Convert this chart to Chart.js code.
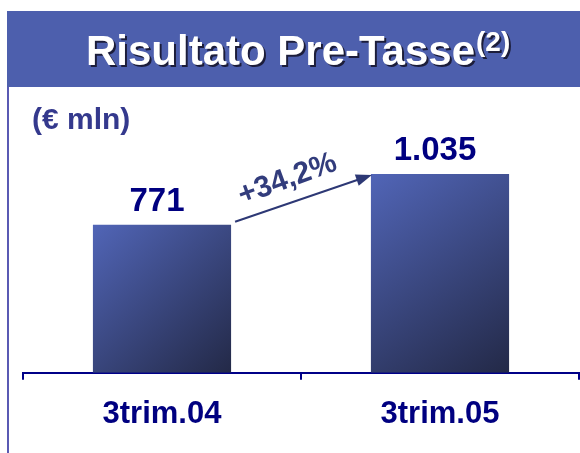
<!DOCTYPE html>
<html>
<head>
<meta charset="utf-8">
<script src="https://cdn.jsdelivr.net/npm/chart.js@4.4.0/dist/chart.umd.min.js"></script>
<style>
  html, body { margin: 0; padding: 0; background: #fff; }
  #wrap { width: 580px; height: 453px; position: relative; }
</style>
</head>
<body>
<div id="wrap"><canvas id="chartRisultato"></canvas></div>
<script>
// dati (€ mln)
const categorie = ['3trim.04', '3trim.05'];
const valori = [771, 1035];
const titolo = 'Risultato Pre-Tasse';
const nota = '(2)';
const unita = '(€ mln)';

const FONT = '"Liberation Sans", Arial, Helvetica, sans-serif';

function fmtIt(n) {
  return String(n).replace(/\B(?=(\d{3})+(?!\d))/g, '.');
}

function barGradient(ctx) {
  const chart = ctx.chart;
  const area = chart.chartArea;
  if (!area || !chart.scales.x) return '#4a5cab';
  const x = chart.scales.x.getPixelForValue(ctx.dataIndex);
  const top = chart.scales.y.getPixelForValue(ctx.raw);
  const base = chart.scales.y.getPixelForValue(0);
  const g = chart.ctx.createLinearGradient(x - 69, top, x + 69, base);
  g.addColorStop(0, '#5165b7');
  g.addColorStop(1, '#232947');
  return g;
}

// sfondo: banda del titolo, linea a sinistra, unità
const decorPlugin = {
  id: 'decor',
  beforeDraw(chart) {
    const c = chart.ctx;
    c.save();
    c.fillStyle = '#4d5fad';
    c.fillRect(7, 11, 573, 76);

    c.strokeStyle = '#3030a0';
    c.lineWidth = 1.6;
    c.beginPath();
    c.moveTo(8, 87);
    c.lineTo(8, 453);
    c.stroke();

    // titolo con ombra
    c.textBaseline = 'alphabetic';
    c.textAlign = 'left';
    c.font = 'bold 42px ' + FONT;
    const w = c.measureText(titolo).width;
    c.fillStyle = '#1c1d3a';
    c.fillText(titolo, 88, 67);
    c.fillStyle = '#ffffff';
    c.fillText(titolo, 86, 65);
    c.font = 'bold 28px ' + FONT;
    c.fillStyle = '#1c1d3a';
    c.fillText(nota, 86 + w + 3, 53);
    c.fillStyle = '#ffffff';
    c.fillText(nota, 86 + w + 1, 51);

    c.font = 'bold 30px ' + FONT;
    c.fillStyle = '#34398d';
    c.fillText(unita, 32, 129);
    c.restore();
  },
  afterDraw(chart) {
    const c = chart.ctx;
    const meta = chart.getDatasetMeta(0);
    c.save();
    // etichette dei valori
    c.font = 'bold 33px ' + FONT;
    c.fillStyle = '#000080';
    c.textAlign = 'center';
    c.textBaseline = 'alphabetic';
    meta.data.forEach(function (bar, i) {
      c.fillText(fmtIt(valori[i]), bar.x - 5, bar.y - 14);
    });

    // freccia di crescita
    const b0 = meta.data[0], b1 = meta.data[1];
    const x0 = b0.x + b0.width / 2 + 4, y0 = b0.y - 3;
    const x1 = b1.x - b1.width / 2 + 1, y1 = b1.y + 1;
    const ang = Math.atan2(y1 - y0, x1 - x0);
    c.strokeStyle = '#2d3875';
    c.fillStyle = '#2d3875';
    c.lineWidth = 2;
    c.beginPath();
    c.moveTo(x0, y0);
    c.lineTo(x1 - 14 * Math.cos(ang), y1 - 14 * Math.sin(ang));
    c.stroke();
    c.beginPath();
    c.moveTo(x1, y1);
    c.lineTo(x1 - 16 * Math.cos(ang) + 6 * Math.sin(ang), y1 - 16 * Math.sin(ang) - 6 * Math.cos(ang));
    c.lineTo(x1 - 16 * Math.cos(ang) - 6 * Math.sin(ang), y1 - 16 * Math.sin(ang) + 6 * Math.cos(ang));
    c.closePath();
    c.fill();

    const pct = ((valori[1] / valori[0] - 1) * 100).toFixed(1).replace('.', ',');
    c.translate((x0 + x1) / 2 - 16, (y0 + y1) / 2 - 19);
    c.rotate(ang - 0.02);
    c.font = 'bold 30px ' + FONT;
    c.fillStyle = '#323c7c';
    c.textAlign = 'center';
    c.textBaseline = 'middle';
    c.fillText('+' + pct + '%', 0, 0);
    c.restore();
  }
};

new Chart(document.getElementById('chartRisultato').getContext('2d'), {
  type: 'bar',
  data: {
    labels: categorie,
    datasets: [{
      data: valori,
      backgroundColor: barGradient,
      borderWidth: 0,
      barPercentage: 1,
      categoryPercentage: 0.497
    }]
  },
  options: {
    responsive: true,
    maintainAspectRatio: false,
    animation: false,
    layout: { padding: { left: 23, right: 1, top: 100, bottom: 4 } },
    plugins: {
      legend: { display: false },
      tooltip: { enabled: false },
      title: { display: false }
    },
    scales: {
      x: {
        grid: {
          display: true,
          drawOnChartArea: false,
          drawTicks: true,
          tickLength: 7,
          offset: true,
          color: '#000088',
          lineWidth: 2
        },
        border: { display: true, color: '#000088', width: 2 },
        ticks: {
          color: '#000080',
          padding: 16,
          font: { family: FONT, size: 31, weight: 'bold' }
        }
      },
      y: { display: false, min: 0, max: 1420 }
    }
  },
  plugins: [decorPlugin]
});
</script>
</body>
</html>
